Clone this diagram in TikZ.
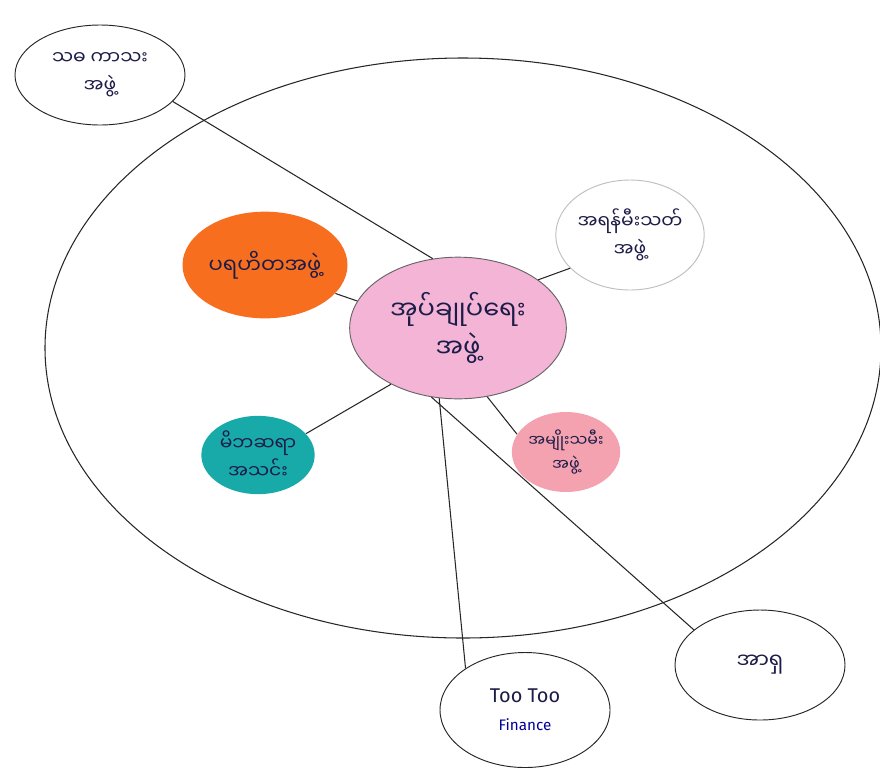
\documentclass[tikz,border=0pt]{standalone}
\usepackage{fontspec}
\newfontfamily\myanfont[Script=Myanmar]{Noto Sans Myanmar UI}
\setsansfont{Fira Sans}
\usepackage{xcolor}
\usetikzlibrary{shapes.geometric}

\definecolor{inkblue}{RGB}{28,28,72}
\definecolor{adminpink}{RGB}{243,180,214}
\definecolor{charityorange}{RGB}{246,110,30}
\definecolor{ptateal}{RGB}{24,170,168}
\definecolor{womenpink}{RGB}{244,162,176}

\begin{document}
\begin{tikzpicture}[x=0.03cm, y=-0.03cm,
    org/.style={shape=ellipse, draw=black!85, line width=0.8pt, inner sep=0pt,
                align=center, text=inkblue, font=\myanfont\fontsize{16}{24}\selectfont},
    link/.style={draw=black!85, line width=0.9pt}]
        \useasboundingbox (0,0) rectangle (880,775);

        % the village
        \draw[line width=0.9pt, black!85] (463,348) ellipse [x radius=418, y radius=290];

        \node[org, fill=adminpink, draw=black!60, minimum width=6.5cm, minimum height=4.25cm,
              font=\myanfont\fontsize{22}{32}\selectfont] (admin) at (458,328) {အုပ်ချုပ်ရေး\\အဖွဲ့};
        \node[org, fill=charityorange, draw=none, minimum width=4.95cm, minimum height=3.2cm,
              font=\myanfont\fontsize{18}{24}\selectfont] (charity) at (265,265) {ပရဟိတအဖွဲ့};
        \node[org, fill=white, draw=black!25, minimum width=4.2cm, minimum height=3.3cm] (fire) at (630,235) {အရန်မီးသတ်\\အဖွဲ့};
        \node[org, fill=ptateal, draw=none, minimum width=3.4cm, minimum height=2.35cm] (pta) at (258,455) {မိဘဆရာ\\အသင်း};
        \node[org, fill=womenpink, draw=none, minimum width=3.25cm, minimum height=2.4cm,
              font=\myanfont\fontsize{13.5}{21}\selectfont] (women) at (566,452) {အမျိုးသမီး\\အဖွဲ့};

        % outside the village
        \node[org, fill=white, minimum width=5.1cm, minimum height=3.0cm] (religion) at (100,75) {သဓ ကာသး\\အဖွဲ့};
        \node[org, fill=white, minimum width=5.1cm, minimum height=3.45cm,
              font=\sffamily\fontsize{17}{24}\selectfont] (tootoo) at (525,710) {Too Too\\{\fontsize{13}{16}\selectfont\color{blue!60!black}Finance}};
        \node[org, fill=white, minimum width=5.1cm, minimum height=3.3cm,
              font=\myanfont\fontsize{18}{24}\selectfont] (asia) at (760,665) {အာရှ};

        \draw[link] (religion.340) -- (admin.110);
        \draw[link] (charity.338) -- (admin.165);
        \draw[link] (fire.209) -- (admin.31);
        \draw[link] (admin.220) -- (pta.24);
        \draw[link] (admin.293) -- (women.160);
        \draw[link] (admin.255) -- (tootoo.145);
        \draw[link] (admin.249) -- (asia.152);
    \end{tikzpicture}
\end{document}
